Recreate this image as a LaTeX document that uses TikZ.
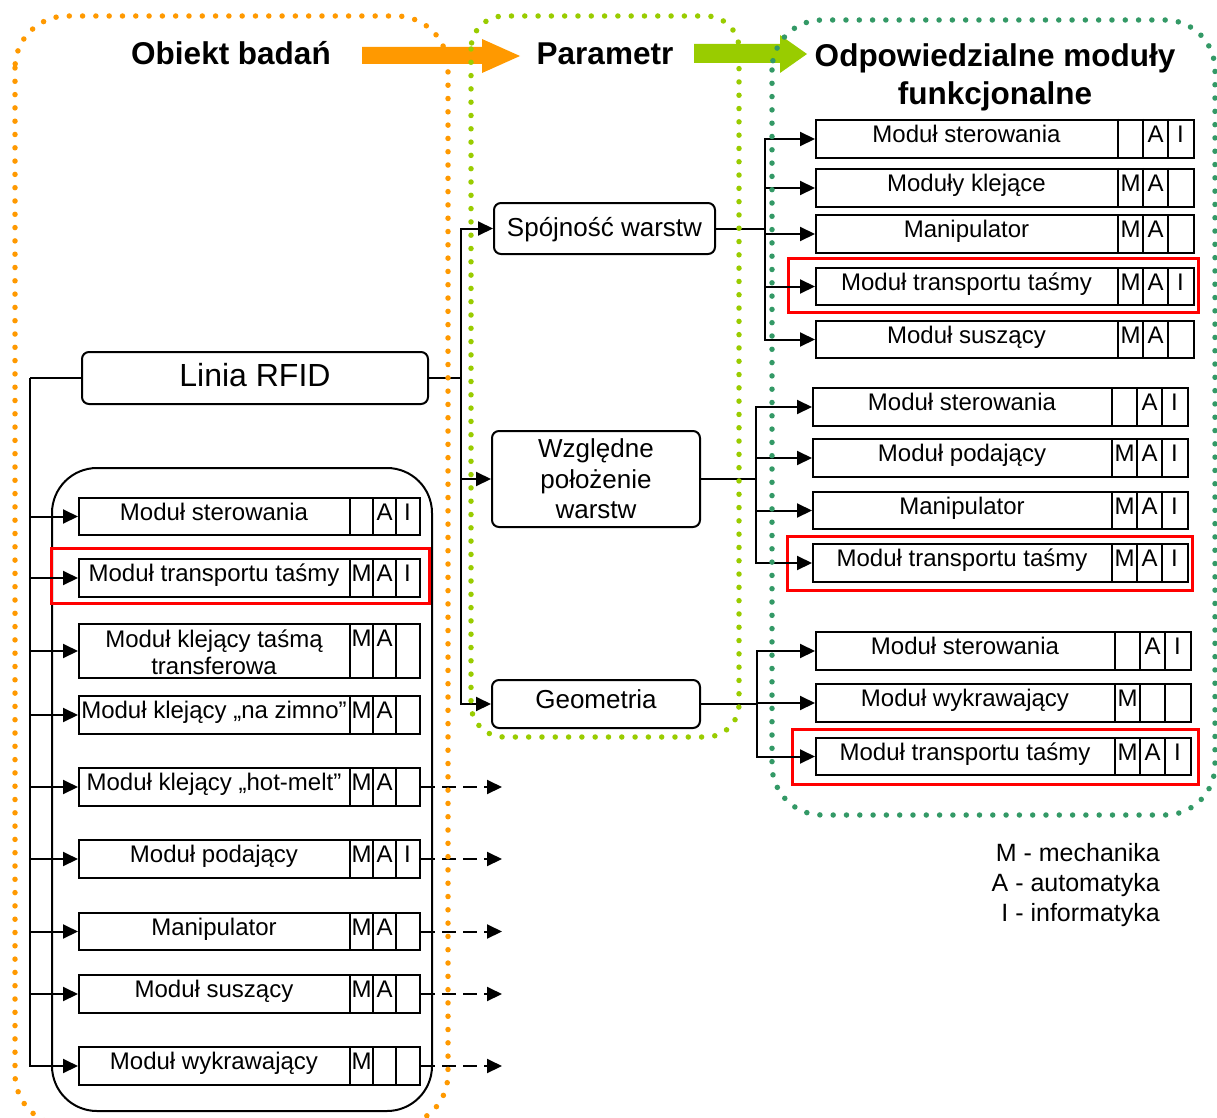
\documentclass[tikz,border=0pt]{standalone}
\usepackage{fontspec}
\setmainfont{Liberation Sans}
\usetikzlibrary{arrows.meta}
\definecolor{orng}{HTML}{FF9900}
\definecolor{ygrn}{HTML}{99CC00}
\definecolor{dgrn}{HTML}{339966}
% #1 name, #2 x left, #3 y top, #4 y bottom, #5 x right, #6 label, #7 #8 #9 letters M A I
\newcommand\mymod[9]{%
  \pgfmathsetmacro\mw{#5-#2}\pgfmathsetmacro\mh{#4-#3}%
  \node[modbox, minimum width=\mw pt, minimum height=\mh pt, anchor=north west] (#1) at (#2,#3) {};
  \pgfmathsetmacro\dA{#5-3*\cw}\pgfmathsetmacro\dB{#5-2*\cw}\pgfmathsetmacro\dC{#5-\cw}%
  \pgfmathsetmacro\yb{#3+23.5}%
  \draw[boxline] (\dA,#3) -- (\dA,#4) (\dB,#3) -- (\dB,#4) (\dC,#3) -- (\dC,#4);
  \node[modtxt] (#1-t) at ({(#2+\dA)/2},\yb) {#6};
  \node[modtxt] (#1-m) at ({\dA+0.5*\cw},\yb) {#7};
  \node[modtxt] (#1-a) at ({\dB+0.5*\cw},\yb) {#8};
  \node[modtxt] (#1-i) at ({\dC+0.5*\cw},\yb) {#9};
}
\begin{document}
\begin{tikzpicture}[x=1pt,y=-1pt,
  modbox/.style={draw, line width=2pt, fill=white, inner sep=0pt, rectangle},
  boxline/.style={line width=2pt},
  modtxt/.style={anchor=base, inner sep=0pt, font=\fontsize{24}{27}\selectfont},
  conn/.style={line width=2pt},
  arr/.style={conn, -{Triangle[length=15pt,width=14pt]}},
  darr/.style={conn, dash pattern=on 14pt off 7pt, -{Triangle[length=15pt,width=14pt]}},
  pbox/.style={draw, line width=2pt, rounded corners=7pt, fill=white, inner sep=0pt, align=center},
  redbox/.style={draw=red, line width=3pt},
  dotsline/.style={line width=5.5pt, dash pattern=on 0pt off 13.3pt, line cap=round},
  title/.style={font=\fontsize{31.5}{38}\selectfont\bfseries, inner sep=0pt, anchor=base}
]
\useasboundingbox (0,0) rectangle (1217,1118);
\clip (0,0) rectangle (1217,1118);

% titles and block arrows
\node[title] (t1) at (231,65) {Obiekt badań};
\node[title] (t2) at (605,65) {Parametr};
\node[title, align=center, anchor=north] (t3) at (995,43) {Odpowiedzialne moduły\\funkcjonalne};
\fill[orng] (362,47) -- (482,47) -- (482,39) -- (520,56) -- (482,73) -- (482,64) -- (362,64) -- cycle;
\fill[ygrn] (694,44) -- (780,44) -- (780,35) -- (807,54) -- (780,73) -- (780,63) -- (694,63) -- cycle;

% inner rounded container (left)
\draw[line width=2pt, rounded corners=45pt] (52,468) rectangle (432,1111);

% main nodes
\node[pbox, minimum width=346pt, minimum height=52pt, text height=23pt, text depth=7pt,
      font=\fontsize{32}{36}\selectfont] (rfid) at (255,378) {Linia RFID};
\node[pbox, minimum width=221pt, minimum height=51pt, text height=19pt, text depth=4pt,
      font=\fontsize{26}{30}\selectfont] (spoj) at (604.5,228.5) {Spójność warstw};
\node[pbox, minimum width=208pt, minimum height=96pt,
      font=\fontsize{26}{30.5}\selectfont] (wzgl) at (596,479) {Względne\\położenie\\warstw};
\node[pbox, minimum width=208pt, minimum height=48pt, text height=19pt, text depth=11pt,
      font=\fontsize{26}{30}\selectfont] (geom) at (596,704) {Geometria};

% left modules
\def\cw{23}
\mymod{L1}{78}{497}{534}{419}{Moduł sterowania}{}{A}{I}
\mymod{L2}{78}{558}{596}{419}{Moduł transportu taśmy}{M}{A}{I}
\mymod{L3}{78}{623}{677}{419}{}{M}{A}{}
\node[anchor=north, align=center, inner sep=0pt, font=\fontsize{24}{27}\selectfont] (L3x) at (214,629.5) {Moduł klejący taśmą\\transferowa};
\mymod{L4}{78}{695}{733}{419}{Moduł klejący „na zimno”}{M}{A}{}
\mymod{L5}{78}{767}{805}{419}{Moduł klejący „hot-melt”}{M}{A}{}
\mymod{L6}{78}{839}{877}{419}{Moduł podający}{M}{A}{I}
\mymod{L7}{78}{912}{949}{419}{Manipulator}{M}{A}{}
\mymod{L8}{78}{974}{1012}{419}{Moduł suszący}{M}{A}{}
\mymod{L9}{78}{1046}{1084}{419}{Moduł wykrawający}{M}{}{}

% right group 1
\def\cw{25}
\mymod{R1}{815}{119}{157}{1193}{Moduł sterowania}{}{A}{I}
\mymod{R2}{815}{168}{206}{1193}{Moduły klejące}{M}{A}{}
\mymod{R3}{815}{214}{252}{1193}{Manipulator}{M}{A}{}
\mymod{R4}{815}{267}{304}{1193}{Moduł transportu taśmy}{M}{A}{I}
\mymod{R5}{815}{320}{357}{1193}{Moduł suszący}{M}{A}{}
% right group 2
\mymod{S1}{812}{387}{425}{1187}{Moduł sterowania}{}{A}{I}
\mymod{S2}{812}{438}{476}{1187}{Moduł podający}{M}{A}{I}
\mymod{S3}{812}{491}{528}{1187}{Manipulator}{M}{A}{I}
\mymod{S4}{812}{543}{581}{1187}{Moduł transportu taśmy}{M}{A}{I}
% right group 3
\mymod{T1}{815}{631}{669}{1190}{Moduł sterowania}{}{A}{I}
\mymod{T2}{815}{683}{721}{1190}{Moduł wykrawający}{M}{}{}
\mymod{T3}{815}{737}{774}{1190}{Moduł transportu taśmy}{M}{A}{I}

% red highlight frames
\draw[redbox] (51,548) rectangle (429,603);
\draw[redbox] (788,258) rectangle (1198,312);
\draw[redbox] (787,536) rectangle (1192,590);
\draw[redbox] (792,729) rectangle (1198,784);

% connectors: left bus
\coordinate (lbus) at (30,378);
\draw[conn] (rfid.west) -- (lbus);
\foreach \n in {L1,L2,L3,L4,L5,L6,L7,L8,L9} \draw[arr] (lbus) |- (\n.west);
% dashed outputs
\foreach \n in {L5,L6,L7,L8,L9} {
  \coordinate (\n-out) at (502,0 |- \n.east);
  \draw[darr] (\n.east) -- (\n-out);
}
% right bus
\coordinate (rbus) at (461,378);
\draw[conn] (rfid.east) -- (rbus);
\foreach \n in {spoj,wzgl,geom} \draw[arr] (rbus) |- (\n.west);
% groups
\coordinate (g1) at (765,228.5);
\draw[conn] (spoj.east) -- (g1);
\foreach \n in {R1,R2,R3,R4,R5} \draw[arr] (g1) |- (\n.west);
\coordinate (g2) at (756,479);
\draw[conn] (wzgl.east) -- (g2);
\foreach \n in {S1,S2,S3,S4} \draw[arr] (g2) |- (\n.west);
\coordinate (g3) at (757,704);
\draw[conn] (geom.east) -- (g3);
\foreach \n in {T1,T2,T3} \draw[arr] (g3) |- (\n.west);

% legend
\node[anchor=north east, align=right, inner sep=0pt, font=\fontsize{25}{30}\selectfont] (legend) at (1160,843) {M - mechanika\\A - automatyka\\I - informatyka};

% dotted containers
\draw[dotsline, orng, rounded corners=52pt] (15,16) rectangle (448,1126);
\draw[dotsline, ygrn, rounded corners=33pt] (471,16) rectangle (739,737);
\draw[dotsline, dgrn, rounded corners=50pt] (772,20) rectangle (1215,815);
\end{tikzpicture}
\end{document}
